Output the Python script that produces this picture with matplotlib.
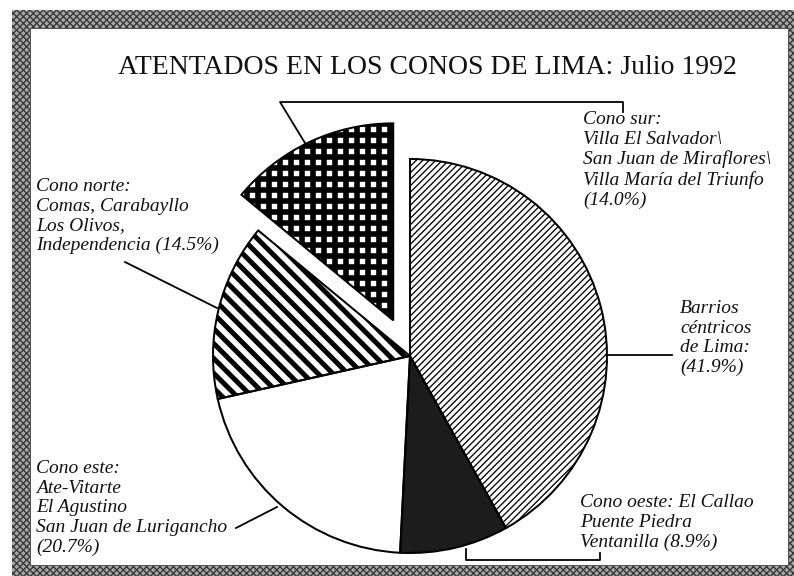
import numpy as np
from matplotlib import pyplot as plt
from matplotlib.patches import Rectangle
from matplotlib.collections import LineCollection

# data
sectores = ["Barrios céntricos", "Cono oeste", "Cono este", "Cono norte", "Cono sur"]
porcentajes = [41.9, 8.9, 20.7, 14.5, 14.0]
separar = [0, 0, 0, 0, 0.2]

titulo = "ATENTADOS EN LOS CONOS DE LIMA: Julio 1992"
etiquetas = [
    "Barrios\ncéntricos\nde Lima:\n(41.9%)",
    "Cono oeste: El Callao\nPuente Piedra\nVentanilla (8.9%)",
    "Cono este:\nAte-Vitarte\nEl Agustino\nSan Juan de Lurigancho\n(20.7%)",
    "Cono norte:\nComas, Carabayllo\nLos Olivos,\nIndependencia (14.5%)",
    "Cono sur:\nVilla El Salvador\\\nSan Juan de Miraflores\\\nVilla María del Triunfo\n(14.0%)",
]

DPI = 100
H = 576  # image height, to flip y from picture coords
R = 197


def y(v):
    return H - v


def px(v):
    # sizes given in pixels -> points
    return v * 72 / DPI


def rayado(ax, patch, angle, spacing, width):
    # parallel lines clipped to a wedge, like the screen tones of the print
    a = np.deg2rad(angle)
    u = np.array([np.cos(a), np.sin(a)])
    n = np.array([-u[1], u[0]])
    segs = []
    for d in np.arange(-1200, 1200, spacing):
        p = d * n + np.array([400, 288])
        segs.append([p - 1200 * u, p + 1200 * u])
    lc = LineCollection(segs, colors="black", linewidths=px(width), zorder=2.5)
    ax.add_collection(lc)
    lc.set_clip_path(patch)


fig = plt.figure(figsize=(794 / DPI, 576 / DPI), dpi=DPI)
ax = fig.add_axes([0, 0, 1, 1])

# textured gray frame
ax.add_patch(Rectangle((12, -10), 800, y(10) + 10, facecolor="#a8a8a8",
                       edgecolor="#3a3a3a", hatch="xxxxx", lw=0, zorder=0))
ax.add_patch(Rectangle((30, y(565)), 758, 537, facecolor="white",
                       edgecolor="#555555", lw=px(1), zorder=0.5))

faces = ["white", "#1c1c1c", "white", "white", "white"]
explode = [e * R for e in separar]

wedges, _ = ax.pie(porcentajes, explode=explode, startangle=90,
                   counterclock=False, center=(410, y(356)), radius=R, frame=True,
                   wedgeprops=dict(edgecolor="none", linewidth=0, zorder=2))
for w, f in zip(wedges, faces):
    w.set_facecolor(f)

rayado(ax, wedges[0], 45, 4.6, 1.3)      # barrios: fine ////
rayado(ax, wedges[3], -45, 10.5, 5.0)    # norte: bold \\\\
rayado(ax, wedges[4], 0, 11.0, 5.6)      # sur: black grid, white dots
rayado(ax, wedges[4], 90, 11.0, 5.6)

# outlines on top of the tones
ax.pie(porcentajes, explode=explode, startangle=90, counterclock=False,
       center=(410, y(356)), radius=R, frame=True,
       wedgeprops=dict(fill=False, edgecolor="black", linewidth=px(2), zorder=3))

ax.set_xlim(0, 794)
ax.set_ylim(0, 576)
ax.set_aspect("auto")
ax.axis("off")

ax.text(427, y(74), titulo, ha="center", va="baseline",
        fontsize=px(27.8), family="Liberation Serif", color="#111111")

lab = dict(fontsize=px(19.5), family="Liberation Serif", style="italic",
           ha="left", va="top", linespacing=1.2, color="#111111")
ax.text(680, y(300), etiquetas[0], **lab)
ax.text(580, y(494), etiquetas[1], **lab)
ax.text(36, y(460), etiquetas[2], **lab)
ax.text(36, y(178), etiquetas[3], **lab)
ax.text(583, y(111), etiquetas[4], **lab)

# leader lines
ln = dict(color="black", lw=px(1.8), zorder=3)
ax.plot([607, 672], [y(355), y(355)], **ln)
ax.plot([466, 466, 600, 600], [y(549), y(560), y(560), y(553)], **ln)
ax.plot([236, 277], [y(528), y(507)], **ln)
ax.plot([125, 217], [y(262), y(308)], **ln)
ax.plot([305, 280, 623, 623], [y(143), y(102), y(102), y(112)], **ln)

fig.savefig("out.png", dpi=DPI)
